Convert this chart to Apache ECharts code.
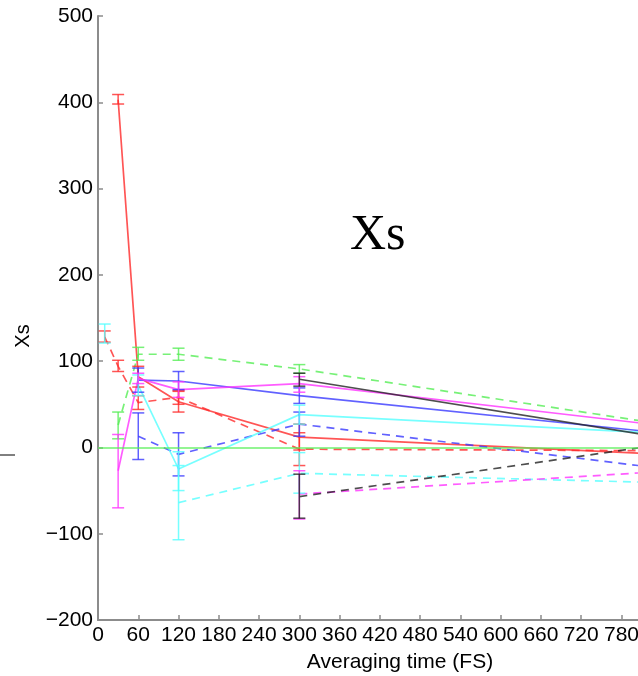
<!DOCTYPE html>
<html>
<head>
<meta charset="utf-8">
<script src="https://cdn.jsdelivr.net/npm/echarts@6/dist/echarts.min.js"></script>
<style>
  html, body { margin: 0; padding: 0; background: #ffffff; }
  #chart { width: 638px; height: 676px; }
</style>
</head>
<body>
<div id="chart"></div>
<script>
// Averaging times (FS) at which Xs was evaluated
const times = [10, 30, 60, 120, 300, 900];

// Axis ranges / tick steps
const xRange = [0, 900];
const xStep = 60;
const yRange = [-200, 500];
const yStep = 100;

// Mean Xs per averaging time (null = not evaluated)
const redSolid      = [null, 403, 82, 53, 12, -10];
const redDashed     = [128, 94, 52, 58, -2, -4];
const greenDashed   = [null, 26, 108, 108, 91, 20];
const blueSolid     = [null, null, 78, 77, 60, 12];
const blueDashed    = [null, null, 13, -8, 27, -30];
const cyanSolid     = [null, null, 72, -25, 38, 14];
const cyanDashed    = [132, null, null, -64, -30, -42];
const magentaSolid  = [null, -27, 80, 67, 74, 20];
const magentaDashed = [null, null, null, null, -54, -25];
const blackSolid    = [null, null, null, null, 79, 4];
const blackDashed   = [null, null, null, null, -57, 10];

// Error-bar limits (low / high)
const redSolidLo      = [null, 398, 70, 41, -3, null];
const redSolidHi      = [null, 409, 94, 65, 27, null];
const redDashedLo     = [122, 88, 44, 50, -21, null];
const redDashedHi     = [135, 101, 60, 66, 17, null];
const greenDashedLo   = [null, 10, 101, 101, 86, null];
const greenDashedHi   = [null, 41, 116, 115, 96, null];
const blueSolidLo     = [null, null, 64, 67, 51, null];
const blueSolidHi     = [null, null, 92, 88, 69, null];
const blueDashedLo    = [null, null, -14, -33, 13, null];
const blueDashedHi    = [null, null, 40, 17, 41, null];
const cyanSolidLo     = [null, null, 60, -50, 27, null];
const cyanSolidHi     = [null, null, 84, -5, 49, null];
const cyanDashedLo    = [121, null, null, -107, -53, null];
const cyanDashedHi    = [143, null, null, -21, -6, null];
const magentaSolidLo  = [null, -70, 74, 58, 64, null];
const magentaSolidHi  = [null, 15, 86, 76, 82, null];
const magentaDashedLo = [null, null, null, null, -83, null];
const magentaDashedHi = [null, null, null, null, -27, null];
const blackSolidLo    = [null, null, null, null, 71, null];
const blackSolidHi    = [null, null, null, null, 86, null];
const blackDashedLo   = [null, null, null, null, -82, null];
const blackDashedHi   = [null, null, null, null, -31, null];

const COLORS = {
  red: '#ff2a2a', green: '#55ee55', blue: '#3a3aff',
  cyan: '#55ffff', magenta: '#ff33ff', black: '#222222'
};

const groups = [
  { name: 'red',     dash: false, v: redSolid,      lo: redSolidLo,      hi: redSolidHi },
  { name: 'red',     dash: true,  v: redDashed,     lo: redDashedLo,     hi: redDashedHi },
  { name: 'green',   dash: true,  v: greenDashed,   lo: greenDashedLo,   hi: greenDashedHi },
  { name: 'blue',    dash: false, v: blueSolid,     lo: blueSolidLo,     hi: blueSolidHi },
  { name: 'blue',    dash: true,  v: blueDashed,    lo: blueDashedLo,    hi: blueDashedHi },
  { name: 'cyan',    dash: false, v: cyanSolid,     lo: cyanSolidLo,     hi: cyanSolidHi },
  { name: 'cyan',    dash: true,  v: cyanDashed,    lo: cyanDashedLo,    hi: cyanDashedHi },
  { name: 'magenta', dash: false, v: magentaSolid,  lo: magentaSolidLo,  hi: magentaSolidHi },
  { name: 'magenta', dash: true,  v: magentaDashed, lo: magentaDashedLo, hi: magentaDashedHi },
  { name: 'black',   dash: false, v: blackSolid,    lo: blackSolidLo,    hi: blackSolidHi },
  { name: 'black',   dash: true,  v: blackDashed,   lo: blackDashedLo,   hi: blackDashedHi }
];

function errorBarItem(params, api) {
  const x = api.value(0);
  const pLo = api.coord([x, api.value(1)]);
  const pHi = api.coord([x, api.value(2)]);
  const half = 6;
  const style = { stroke: api.visual('color'), lineWidth: 1.5, opacity: 0.8 };
  return {
    type: 'group',
    children: [
      { type: 'line', shape: { x1: pLo[0], y1: pLo[1], x2: pHi[0], y2: pHi[1] }, style },
      { type: 'line', shape: { x1: pLo[0] - half, y1: pLo[1], x2: pLo[0] + half, y2: pLo[1] }, style },
      { type: 'line', shape: { x1: pHi[0] - half, y1: pHi[1], x2: pHi[0] + half, y2: pHi[1] }, style }
    ]
  };
}

const series = [];

// zero reference line
series.push({
  type: 'line', data: [], silent: true,
  markLine: {
    symbol: 'none', silent: true, label: { show: false },
    lineStyle: { color: COLORS.green, width: 1.6, type: 'solid', opacity: 0.85 },
    data: [{ yAxis: 0 }]
  }
});

groups.forEach(g => {
  const color = COLORS[g.name];
  series.push({
    type: 'line',
    data: times.map((t, i) => [t, g.v[i] === null ? null : g.v[i]]),
    showSymbol: false,
    connectNulls: false,
    lineStyle: { color, width: 1.7, opacity: 0.8, type: g.dash ? [8, 6] : 'solid' },
    itemStyle: { color },
    z: 3
  });
  const bars = [];
  times.forEach((t, i) => {
    if (g.lo[i] !== null && g.hi[i] !== null) bars.push([t, g.lo[i], g.hi[i]]);
  });
  series.push({
    type: 'custom',
    renderItem: errorBarItem,
    data: bars,
    encode: { x: 0, y: [1, 2] },
    itemStyle: { color },
    z: 4
  });
});

const fmt = v => (v < 0 ? '\u2212' + Math.abs(v) : String(v));
const axisFont = 'Liberation Sans';

const chart = echarts.init(document.getElementById('chart'), null, { renderer: 'canvas' });
chart.setOption({
  backgroundColor: '#ffffff',
  animation: false,
  title: {
    text: 'Xs',
    left: 345, top: 206,
    textStyle: { fontFamily: 'Liberation Serif', fontSize: 50, fontWeight: 'normal', color: '#000' }
  },
  grid: { left: 98, right: -64, top: 16, bottom: 56, containLabel: false, outerBoundsMode: 'none' },
  xAxis: {
    type: 'value', min: xRange[0], max: xRange[1], interval: xStep,
    name: 'Averaging time (FS)', nameLocation: 'middle', nameGap: 32,
    nameTextStyle: { fontFamily: axisFont, fontSize: 21, color: '#000' },
    axisLine: { show: true, onZero: false, lineStyle: { color: '#8c8c8c', width: 2 } },
    axisTick: { inside: true, length: 5, lineStyle: { color: '#8c8c8c', width: 1.5 } },
    axisLabel: { fontFamily: axisFont, fontSize: 21, color: '#000', margin: 5, hideOverlap: false },
    splitLine: { show: false }
  },
  yAxis: {
    type: 'value', min: yRange[0], max: yRange[1], interval: yStep,
    name: 'Xs', nameLocation: 'middle', nameGap: 65, nameRotate: 90,
    nameTextStyle: { fontFamily: axisFont, fontSize: 20, color: '#000', padding: [0, 36, 0, 0] },
    axisLine: { show: true, onZero: false, lineStyle: { color: '#8c8c8c', width: 2 } },
    axisTick: { inside: true, length: 5, lineStyle: { color: '#8c8c8c', width: 1.5 } },
    axisLabel: { fontFamily: axisFont, fontSize: 21, color: '#000', margin: 5, formatter: fmt },
    splitLine: { show: false }
  },
  graphic: [
    { type: 'line', shape: { x1: 0, y1: 455, x2: 15, y2: 455 }, style: { stroke: '#000', lineWidth: 1 } }
  ],
  series
});
</script>
</body>
</html>
